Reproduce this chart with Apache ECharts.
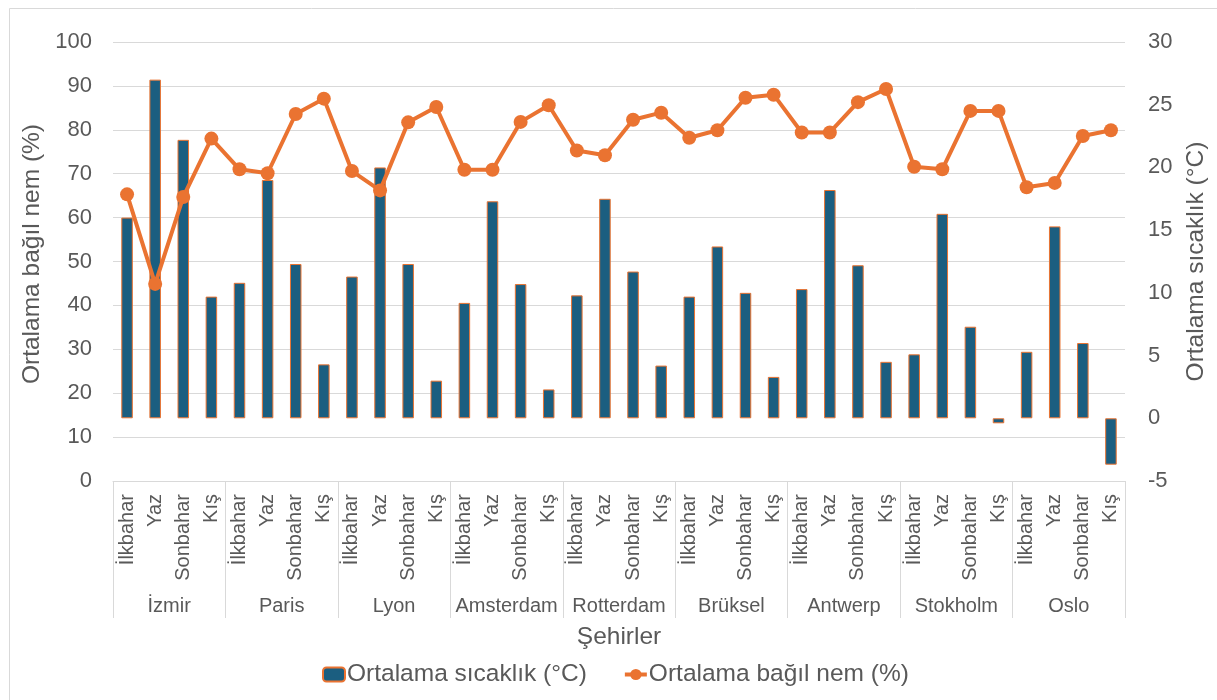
<!DOCTYPE html>
<html>
<head>
<meta charset="utf-8">
<title>Şehirlere göre mevsimlik sıcaklık ve nem</title>
<script src="https://cdn.jsdelivr.net/npm/echarts@6/dist/echarts.min.js"></script>
<style>
  html, body { margin: 0; padding: 0; background: #ffffff; }
  #chart { width: 1217px; height: 700px; }
</style>
</head>
<body>
<div id="chart"></div>
<script>
// Cities (outer category level) and seasons (inner level)
const cities = ['İzmir', 'Paris', 'Lyon', 'Amsterdam', 'Rotterdam', 'Brüksel', 'Antwerp', 'Stokholm', 'Oslo'];
const seasons = ['İlkbahar', 'Yaz', 'Sonbahar', 'Kış'];

// Average temperature (°C), four seasons per city
const temperature = [
  16.0, 27.0, 22.2, 9.7,
  10.8, 19.0, 12.3, 4.3,
  11.3, 20.0, 12.3, 3.0,
  9.2, 17.3, 10.7, 2.3,
  9.8, 17.5, 11.7, 4.2,
  9.7, 13.7, 10.0, 3.3,
  10.3, 18.2, 12.2, 4.5,
  5.1, 16.3, 7.3, -0.4,
  5.3, 15.3, 6.0, -3.7
];

// Average relative humidity (%), four seasons per city
const humidity = [
  65.3, 44.9, 64.7, 78.0,
  71.0, 70.1, 83.6, 87.1,
  70.6, 66.2, 81.7, 85.2,
  70.9, 70.9, 81.8, 85.6,
  75.3, 74.2, 82.3, 83.9,
  78.2, 79.9, 87.3, 88.0,
  79.4, 79.4, 86.3, 89.3,
  71.6, 71.0, 84.3, 84.3,
  66.9, 67.9, 78.6, 79.9
];

// Inner category labels: the season list repeated for each city
const seasonLabels = [];
cities.forEach(() => seasons.forEach(s => seasonLabels.push(s)));

const FONT = '"Liberation Sans", Arial, sans-serif';
const TEXT = '#595959';
const GRID_LINE = '#d9d9d9';
const BAR_COLOR = '#1b5e80';
const LINE_COLOR = '#ea7331';

const chart = echarts.init(document.getElementById('chart'), null, { renderer: 'canvas' });

chart.setOption({
  backgroundColor: '#ffffff',
  animation: false,
  textStyle: { fontFamily: FONT, color: TEXT },
  graphic: [{
    type: 'rect',
    left: 7, top: 6,
    shape: { width: 1208, height: 700 },
    style: { fill: 'none', stroke: GRID_LINE, lineWidth: 1 },
    silent: true
  }],
  grid: { left: 113, right: 92, top: 42, bottom: 219, containLabel: false },
  legend: {
    bottom: 8,
    left: 317,
    itemGap: 36,
    itemWidth: 22,
    itemHeight: 14,
    textStyle: { fontFamily: FONT, fontSize: 24.5, color: TEXT, padding: [0, 0, 0, -3] },
    data: [
      { name: 'Ortalama sıcaklık (°C)' },
      { name: 'Ortalama bağıl nem (%)', lineStyle: { width: 4 } }
    ]
  },
  xAxis: [
    {
      type: 'category',
      data: seasonLabels,
      position: 'bottom',
      boundaryGap: true,
      axisLine: { show: true, onZero: false, lineStyle: { color: GRID_LINE, width: 1 } },
      axisTick: { show: false },
      axisLabel: {
        interval: 0, rotate: 90, margin: 13,
        fontFamily: FONT, fontSize: 20, color: TEXT
      }
    },
    {
      type: 'category',
      data: cities,
      position: 'bottom',
      boundaryGap: true,
      axisLine: { show: false, onZero: false },
      axisTick: { show: true, interval: 0, length: 137, lineStyle: { color: GRID_LINE, width: 1 } },
      axisLabel: {
        interval: 0, margin: 115,
        fontFamily: FONT, fontSize: 20, color: TEXT
      },
      name: 'Şehirler',
      nameLocation: 'middle',
      nameGap: 144,
      nameTextStyle: { fontFamily: FONT, fontSize: 24.5, color: TEXT }
    }
  ],
  yAxis: [
    {
      type: 'value',
      position: 'left',
      min: 0, max: 100, interval: 10,
      axisLine: { show: false },
      axisTick: { show: false },
      splitLine: { show: true, lineStyle: { color: GRID_LINE, width: 1 } },
      axisLabel: { margin: 21, fontFamily: FONT, fontSize: 22, color: TEXT },
      name: 'Ortalama bağıl nem (%)',
      nameLocation: 'middle',
      nameRotate: 90,
      nameGap: 65,
      nameTextStyle: { fontFamily: FONT, fontSize: 24.5, color: TEXT, padding: [0, 0, 0, 15] }
    },
    {
      type: 'value',
      position: 'right',
      min: -5, max: 30, interval: 5,
      axisLine: { show: false },
      axisTick: { show: false },
      splitLine: { show: false },
      axisLabel: { margin: 23, fontFamily: FONT, fontSize: 22, color: TEXT },
      name: 'Ortalama sıcaklık (°C)',
      nameLocation: 'middle',
      nameRotate: 90,
      nameGap: 52,
      nameTextStyle: { fontFamily: FONT, fontSize: 24.5, color: TEXT }
    }
  ],
  series: [
    {
      name: 'Ortalama sıcaklık (°C)',
      type: 'bar',
      xAxisIndex: 0,
      yAxisIndex: 1,
      data: temperature,
      barWidth: '41%',
      itemStyle: { color: BAR_COLOR, borderColor: LINE_COLOR, borderWidth: 1 }
    },
    {
      name: 'Ortalama bağıl nem (%)',
      type: 'line',
      xAxisIndex: 0,
      yAxisIndex: 0,
      data: humidity,
      symbol: 'circle',
      symbolSize: 14,
      lineStyle: { color: LINE_COLOR, width: 4 },
      itemStyle: { color: LINE_COLOR },
      z: 3
    }
  ]
});
</script>
</body>
</html>
